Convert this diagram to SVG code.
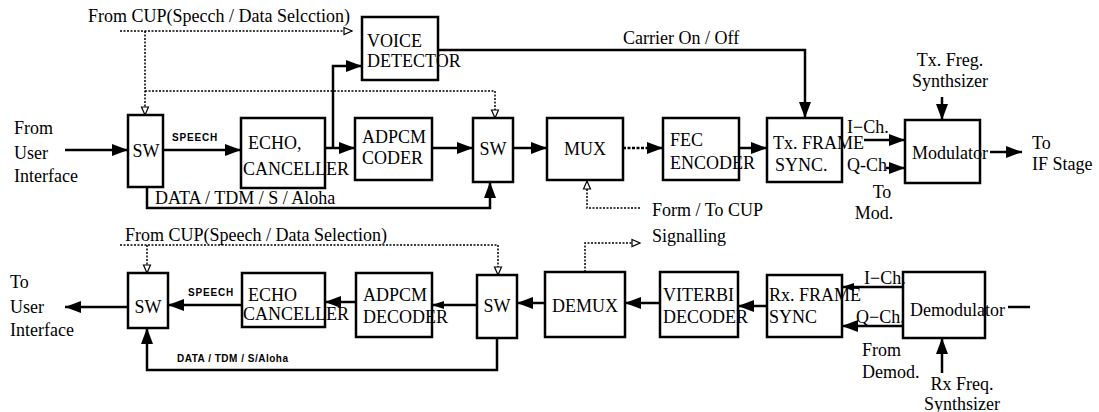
<svg xmlns="http://www.w3.org/2000/svg" width="1099" height="412" viewBox="0 0 1099 412">
<defs>
<style>
.box{fill:none;stroke:#000;stroke-width:2.5}
.ln{fill:none;stroke:#000;stroke-width:2.5}
.dot{fill:none;stroke:#000;stroke-width:1.5;stroke-dasharray:2 1.5}
.dsh{fill:none;stroke:#000;stroke-width:2.5;stroke-dasharray:3 1.5}
text{font-family:"Liberation Serif","Times New Roman",serif;font-size:18px;fill:#000}
.bl{font-size:18px}
.sm{font-family:"Liberation Sans",Arial,sans-serif;font-weight:bold;font-size:10px}
.mid{text-anchor:middle}
</style>
<marker id="a" markerUnits="userSpaceOnUse" markerWidth="16" markerHeight="12" refX="16" refY="6" orient="auto">
<path d="M0,0 L16,6 L0,12 z" fill="#000"/>
</marker>
<marker id="s" markerUnits="userSpaceOnUse" markerWidth="12" markerHeight="10" refX="12" refY="5" orient="auto">
<path d="M0,1 L12,5 L0,9 z" fill="#000"/>
</marker>
<marker id="h" markerUnits="userSpaceOnUse" markerWidth="10" markerHeight="10" refX="9" refY="5" orient="auto">
<path d="M1,1.5 L9,5 L1,8.5 z" fill="#fff" stroke="#000" stroke-width="1.2"/>
</marker>
</defs>

<g id="connectors">
<path class="dot" d="M120,31 H352" marker-end="url(#h)"/>
<path class="dot" d="M145,31 V115" marker-end="url(#h)"/>
<path class="dot" d="M145,91 H495 V118" marker-end="url(#h)"/>
<path class="ln" d="M65,150 H128" marker-end="url(#a)"/>
<path class="ln" d="M163,150 H241" marker-end="url(#a)"/>
<path class="ln" d="M325,148 H355" marker-end="url(#a)"/>
<path class="ln" d="M333,148 V66 H362" marker-end="url(#a)"/>
<path class="ln" d="M432,148 H473" marker-end="url(#a)"/>
<path class="ln" d="M513,148 H547" marker-end="url(#a)"/>
<path class="dsh" d="M623,148 H663" marker-end="url(#a)"/>
<path class="ln" d="M739,148 H767" marker-end="url(#a)"/>
<path class="ln" d="M438,50 H805 V118" marker-end="url(#a)"/>
<path class="ln" d="M864,140 H905" marker-end="url(#a)"/>
<path class="ln" d="M886,168 H905" marker-end="url(#a)"/>
<path class="ln" d="M942,97 V120" marker-end="url(#a)"/>
<path class="ln" d="M990,152 H1022" marker-end="url(#a)"/>
<path class="ln" d="M147,187 V208 H490 V182" marker-end="url(#a)"/>
<path class="dot" d="M640,208 H587 V181" marker-end="url(#h)"/>
<path class="dot" d="M120,245 H498 V275" marker-end="url(#h)"/>
<path class="dot" d="M147,245 V273" marker-end="url(#h)"/>
<path class="ln" d="M128,307 H65" marker-end="url(#a)"/>
<path class="ln" d="M242,305 H168" marker-end="url(#a)"/>
<path class="ln" d="M356,302 H325" marker-end="url(#a)"/>
<path class="ln" d="M477,305 H432" marker-end="url(#s)"/>
<path class="ln" d="M545,303 H517" marker-end="url(#a)"/>
<path class="ln" d="M660,303 H625" marker-end="url(#a)"/>
<path class="ln" d="M767,306 H738" marker-end="url(#a)"/>
<path class="ln" d="M903,287 H842" marker-end="url(#s)"/>
<path class="ln" d="M903,326 H842" marker-end="url(#a)"/>
<path class="ln" d="M1008,307 H1030"/>
<path class="ln" d="M942,373 V338" marker-end="url(#a)"/>
<path class="ln" d="M497,338 V370 H147 V328" marker-end="url(#a)"/>
<path class="dot" d="M585,272 V243 H640" marker-end="url(#h)"/>
</g>

<g id="labels">
<text x="88" y="22">From CUP(Specch / Data Selcction)</text>
<text x="623" y="44">Carrier On / Off</text>
<text x="14" y="134">From</text>
<text x="14" y="159">User</text>
<text x="14" y="182">Interface</text>
<text class="sm" x="172" y="141" letter-spacing="0.8">SPEECH</text>
<text x="155" y="204">DATA / TDM / S / Aloha</text>
<text x="847" y="133">I−Ch.</text>
<text x="847" y="171">Q-Ch</text>
<text class="mid" x="882" y="198">To</text>
<text class="mid" x="874" y="219">Mod.</text>
<text class="mid" x="950" y="66">Tx. Freg.</text>
<text class="mid" x="950" y="87">Synthsizer</text>
<text x="1032" y="149">To</text>
<text x="1032" y="170">IF Stage</text>
<text x="652" y="216">Form / To CUP</text>
<text x="652" y="242">Signalling</text>
<text x="125" y="241">From CUP(Speech / Data Selection)</text>
<text x="10" y="288">To</text>
<text x="10" y="313">User</text>
<text x="10" y="336">Interface</text>
<text class="sm" x="188" y="296" letter-spacing="0.8">SPEECH</text>
<text class="sm" x="177" y="362" letter-spacing="0.5">DATA / TDM / S/Aloha</text>
<text x="864" y="284">I−Ch.</text>
<text x="856" y="323">Q−Ch.</text>
<text x="862" y="356">From</text>
<text x="862" y="378">Demod.</text>
<text class="mid" x="962" y="390">Rx Freq.</text>
<text class="mid" x="962" y="410">Synthsizer</text>
</g>

<g id="sw1">
<rect class="box" x="128" y="115" width="35" height="72"/>
<text class="bl mid" x="146" y="157">SW</text>
</g>
<g id="voice-detector">
<rect class="box" x="362" y="17" width="76" height="63"/>
<text class="bl" x="367" y="47">VOICE</text>
<text class="bl" x="367" y="67">DETECTOR</text>
</g>
<g id="echo-canceller-tx">
<rect class="box" x="241" y="118" width="84" height="70"/>
<text class="bl" x="248" y="149">ECHO,</text>
<text class="bl" x="243" y="175">CANCELLER</text>
</g>
<g id="adpcm-coder">
<rect class="box" x="355" y="118" width="77" height="62"/>
<text class="bl" x="362" y="143">ADPCM</text>
<text class="bl" x="362" y="164">CODER</text>
</g>
<g id="sw2">
<rect class="box" x="473" y="118" width="40" height="64"/>
<text class="bl mid" x="493" y="155">SW</text>
</g>
<g id="mux">
<rect class="box" x="547" y="118" width="76" height="62"/>
<text class="bl mid" x="585" y="155">MUX</text>
</g>
<g id="fec-encoder">
<rect class="box" x="663" y="118" width="76" height="62"/>
<text class="bl" x="670" y="146">FEC</text>
<text class="bl" x="670" y="169">ENCODER</text>
</g>
<g id="tx-frame-sync">
<rect class="box" x="767" y="118" width="75" height="64"/>
<text class="bl" x="773" y="149">Tx. FRAME</text>
<text class="bl" x="775" y="171">SYNC.</text>
</g>
<g id="modulator">
<rect class="box" x="905" y="120" width="75" height="63"/>
<text class="bl" x="912" y="159">Modulator</text>
</g>

<g id="sw1-rx">
<rect class="box" x="128" y="273" width="40" height="55"/>
<text class="bl mid" x="148" y="313">SW</text>
</g>
<g id="echo-canceller-rx">
<rect class="box" x="242" y="273" width="83" height="54"/>
<text class="bl" x="248" y="301">ECHO</text>
<text class="bl" x="243" y="320">CANCELLER</text>
</g>
<g id="adpcm-decoder">
<rect class="box" x="356" y="273" width="76" height="64"/>
<text class="bl" x="363" y="301">ADPCM</text>
<text class="bl" x="363" y="323">DECODER</text>
</g>
<g id="sw2-rx">
<rect class="box" x="477" y="275" width="40" height="63"/>
<text class="bl mid" x="497" y="312">SW</text>
</g>
<g id="demux">
<rect class="box" x="545" y="272" width="80" height="65"/>
<text class="bl mid" x="585" y="312">DEMUX</text>
</g>
<g id="viterbi-decoder">
<rect class="box" x="660" y="272" width="78" height="65"/>
<text class="bl" x="663" y="301">VITERBI</text>
<text class="bl" x="663" y="323">DECODER</text>
</g>
<g id="rx-frame-sync">
<rect class="box" x="767" y="275" width="75" height="62"/>
<text class="bl" x="769" y="301">Rx. FRAME</text>
<text class="bl" x="769" y="323">SYNC</text>
</g>
<g id="demodulator">
<rect class="box" x="903" y="272" width="82" height="66"/>
<text class="bl" x="910" y="316">Demodulator</text>
</g>
</svg>
